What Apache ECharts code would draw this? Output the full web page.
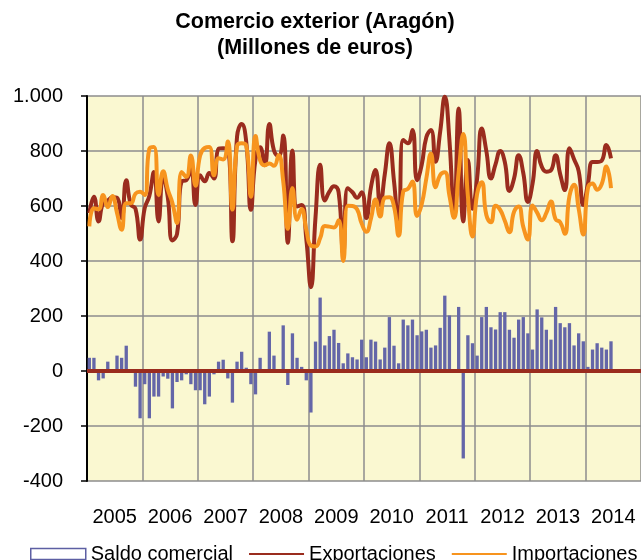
<!DOCTYPE html>
<html>
<head>
<meta charset="utf-8">
<script src="https://cdn.jsdelivr.net/npm/echarts@6/dist/echarts.min.js"></script>
<style>
html, body { margin: 0; padding: 0; background: #fff; }
#main { width: 641px; height: 560px; }
</style>
</head>
<body>
<div id="main"></div>
<script>
// Comercio exterior de Aragón, datos mensuales (millones de euros)
var years = ['2005', '2006', '2007', '2008', '2009', '2010', '2011', '2012', '2013', '2014'];

var saldo = [
    48, 48, -34, -27, 34, 3, 56, 48, 92, -4, -57, -172,
    -48, -172, -93, -93, -20, -28, -136, -40, -34, -12, -48, -70,
    -70, -121, -93, -12, 34, 41, -27, -115, 34, 70, 12, -48,
    -85, 48, 2, 143, 56, -5, 166, -51, 137, 48, 15, -34,
    -151, 107, 267, 93, 127, 150, 102, 28, 64, 50, 42, 114,
    50, 114, 107, 42, 85, 196, 92, 28, 187, 166, 187, 130,
    144, 150, 85, 93, 157, 274, 202, 3, 233, -318, 130, 101,
    56, 196, 233, 159, 151, 214, 214, 150, 121, 187, 196, 137,
    78, 224, 195, 150, 114, 233, 174, 159, 174, 93, 137, 108,
    15, 78, 101, 85, 78, 108
];

var exportaciones = [
    574, 634, 544, 612, 620, 632, 630, 556, 694, 605, 590, 478,
    592, 636, 724, 544, 706, 632, 475, 498, 690, 694, 736, 604,
    712, 690, 720, 700, 808, 810, 808, 472, 852, 898, 832, 586,
    770, 814, 748, 898, 802, 780, 856, 466, 802, 598, 604, 480,
    305, 560, 750, 620, 652, 672, 650, 428, 665, 650, 630, 650,
    556, 668, 731, 604, 715, 828, 690, 520, 840, 828, 876, 694,
    750, 850, 876, 761, 870, 997, 840, 560, 955, 544, 767, 590,
    700, 882, 800, 700, 752, 800, 760, 655, 700, 785, 720, 615,
    680, 800, 743, 725, 730, 785, 715, 658, 810, 770, 727, 604,
    680, 760, 760, 765, 822, 773
];

var importaciones = [
    526, 592, 588, 640, 596, 636, 575, 514, 610, 610, 645, 652,
    640, 808, 815, 640, 726, 660, 611, 538, 724, 706, 784, 674,
    784, 811, 815, 712, 774, 769, 835, 587, 818, 828, 820, 634,
    855, 766, 748, 755, 746, 785, 690, 517, 665, 550, 589, 514,
    456, 453, 483, 527, 525, 522, 548, 400, 601, 600, 588, 536,
    506, 554, 624, 562, 630, 632, 598, 492, 653, 662, 689, 564,
    606, 700, 791, 668, 713, 723, 638, 557, 722, 862, 637, 489,
    644, 686, 567, 541, 601, 586, 546, 505, 579, 598, 524, 478,
    602, 576, 548, 575, 616, 552, 541, 499, 636, 677, 590, 496,
    665, 682, 659, 680, 744, 665
];

// un mes por categoría, años completos
var meses = [];
years.forEach(function (y) {
    for (var m = 1; m <= 12; m++) {
        meses.push(y + '-' + (m < 10 ? '0' + m : m));
    }
});

function miles(v) {
    return String(v).replace(/\B(?=(\d{3})+(?!\d))/g, '.');
}

var fuente = 'Liberation Sans';
var rojo = '#9a2c1e';
var naranja = '#f7941e';

var myChart = echarts.init(document.getElementById('main'));

var option = {
    animation: false,
    textStyle: { fontFamily: fuente },
    title: {
        text: 'Comercio exterior (Aragón)\n(Millones de euros)',
        left: 310,
        top: 4,
        textAlign: 'center',
        textStyle: {
            fontFamily: fuente,
            fontSize: 21.5,
            fontWeight: 'bold',
            color: '#000',
            lineHeight: 26
        }
    },
    legend: {
        left: 25,
        top: 539,
        width: 800,
        itemWidth: 55,
        itemHeight: 11,
        itemGap: 15,
        textStyle: { fontFamily: fuente, fontSize: 20, color: '#000' },
        data: [
            { name: 'Saldo comercial', icon: 'rect',
              itemStyle: { color: '#fff', borderColor: '#5d5fa3', borderWidth: 1.5 } },
            { name: 'Exportaciones', lineStyle: { width: 2, color: rojo }, itemStyle: { opacity: 0 } },
            { name: 'Importaciones', lineStyle: { width: 2, color: naranja }, itemStyle: { opacity: 0 } }
        ]
    },
    grid: {
        left: 87,
        right: -2,
        top: 96,
        bottom: 79,
        show: true,
        backgroundColor: '#faf8d1',
        borderWidth: 0
    },
    xAxis: {
        type: 'category',
        data: meses,
        boundaryGap: true,
        axisLine: { show: false },
        axisTick: { show: false },
        axisLabel: {
            interval: function (i) { return i % 12 === 6; },
            formatter: function (v) { return v.slice(0, 4); },
            fontSize: 20,
            color: '#000',
            margin: 26,
            padding: [0, 4.6, 0, 0]
        },
        splitLine: {
            show: true,
            interval: function (i) { return i % 12 === 0; },
            lineStyle: { color: '#8c8c8c', width: 1.5 }
        }
    },
    yAxis: {
        type: 'value',
        min: -400,
        max: 1000,
        interval: 200,
        axisLine: { show: true, lineStyle: { color: '#000', width: 2 } },
        axisTick: { show: true, length: 6, lineStyle: { color: '#000', width: 1.5 } },
        axisLabel: {
            fontSize: 20,
            color: '#000',
            margin: 24,
            formatter: function (v) { return miles(v); }
        },
        splitLine: { show: true, lineStyle: { color: '#8c8c8c', width: 1.5 } }
    },
    series: [
        {
            name: 'Saldo comercial',
            type: 'bar',
            data: saldo,
            barWidth: '72%',
            itemStyle: { color: '#6466a8' }
        },
        {
            name: 'Exportaciones',
            type: 'line',
            data: exportaciones,
            symbol: 'none',
            smooth: 0.5,
            lineStyle: { color: rojo, width: 4 },
            itemStyle: { color: rojo },
            markLine: {
                silent: true,
                symbol: ['none', 'none'],
                label: { show: false },
                lineStyle: { color: rojo, width: 4, type: 'solid' },
                data: [{ yAxis: 0 }]
            }
        },
        {
            name: 'Importaciones',
            type: 'line',
            data: importaciones,
            symbol: 'none',
            smooth: 0.5,
            lineStyle: { color: naranja, width: 4 },
            itemStyle: { color: naranja }
        }
    ]
};

myChart.setOption(option);
</script>
</body>
</html>
